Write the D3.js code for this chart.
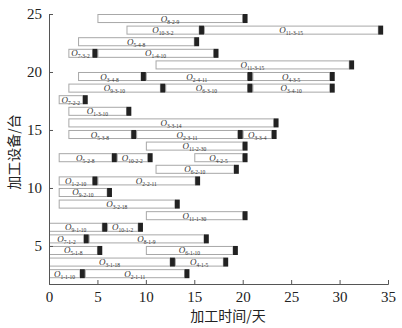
<!DOCTYPE html>
<html><head><meta charset="utf-8">
<script src="https://cdn.jsdelivr.net/npm/d3@7"></script>
<style>html,body{margin:0;padding:0;background:#fff;}svg{display:block;}</style>
</head><body>
<svg id="chart" width="402" height="328"></svg>
<script>
// ---- data ----
const opLabels   = ["8-2-9","10-3-2","11-3-15","5-4-8","7-3-2","1-4-10","11-3-15","3-4-8","2-4-11","4-3-5",
                    "9-3-10","6-3-10","3-4-10","7-2-2","1-3-10","3-3-14","5-3-8","2-3-11","3-3-4","11-2-30",
                    "5-2-8","10-2-2","4-2-5","6-2-10","1-2-10","2-2-11","9-2-10","3-2-18","11-1-30","9-1-10",
                    "10-1-2","7-1-2","8-1-9","5-1-8","6-1-10","3-1-18","4-1-5","1-1-10","2-1-11"];
const opMachine  = [25,24,24,23,22,22,21,20,20,20,
                    19,19,19,18,17,16,15,15,15,14,
                    13,13,13,12,11,11,10,9,8,7,
                    7,6,6,5,5,4,4,3,3];
const opStart    = [5,8,16,3,2,5,11,3,10,21,
                    2,12,21,1,2,2,2,9,20,10,
                    1,7,15,11,1,5,1,1,10,0,
                    6,0,4.1,0,10,0,13,0,3.7];
const opEnd      = [20,15.5,34,15,4.5,17,31,9.5,20.5,29,
                    11.5,20.5,29,3.5,8,23.2,8.5,19.5,23,20,
                    6.5,10.2,20,19.1,4.5,15.1,6,13,20,5.5,
                    9.2,3.6,16,5,19,12.5,18,3.2,14];
const opBlockEnd = [20.5,16,34.5,15.5,5,17.5,31.5,10,21,29.5,
                    12,21,29.5,4,8.5,23.7,9,20,23.5,20.5,
                    7,10.7,20.5,19.6,5,15.6,6.5,13.5,20.5,6,
                    9.7,4.1,16.5,5.5,19.5,13,18.5,3.7,14.5];
const xTicks = [0,5,10,15,20,25,30,35];
const yTicks = [5,10,15,20,25];
const xTitle = "加工时间/天";
const yTitle = "加工设备/台";

// ---- scales ----
const svg = d3.select("#chart");
const x = d3.scaleLinear().domain([0,35]).range([49,388]);
const y = d3.scaleLinear().domain([1.72,25]).range([284,14]);
const barH = 0.78; // in machine units

const rows = opLabels.map((l,i)=>({l, m:opMachine[i], s:opStart[i], e:opEnd[i], b:opBlockEnd[i]}));

const g = svg.append("g");
// white processing bars
g.selectAll("rect.op").data(rows).join("rect").attr("class","op")
  .attr("x", d=>x(d.s)+0.5).attr("y", d=>y(d.m)+0.5)
  .attr("width", d=>x(d.e)-x(d.s)-0.5).attr("height", d=>y(d.m-barH)-y(d.m)-1)
  .attr("fill","#fff").attr("stroke","#a8a8a8").attr("stroke-width",1);
// black blocks
g.selectAll("rect.blk").data(rows).join("rect").attr("class","blk")
  .attr("x", d=>x(d.e)).attr("y", d=>y(d.m))
  .attr("width", d=>x(d.b)-x(d.e)).attr("height", d=>y(d.m-barH)-y(d.m))
  .attr("fill","#222");
// labels
const lab = g.selectAll("text.lab").data(rows).join("text").attr("class","lab")
  .attr("x", d=>x((d.s+d.e)/2)).attr("y", d=>y(d.m-barH/2)+3)
  .attr("text-anchor","middle").attr("fill","#333")
  .style("font-family","'Liberation Serif', serif");
lab.append("tspan").text("O").style("font-style","italic").style("font-size","9px");
lab.append("tspan").text(d=>d.l).attr("dy",2).style("font-size","5.5px");

// axes
const xAxis = d3.axisBottom(x).tickValues(xTicks).tickSize(-4).tickPadding(7).tickFormat(d3.format("d"));
const gx = svg.append("g").attr("transform",`translate(0,${y(1.72)})`).call(xAxis);
const yAxis = d3.axisLeft(y).tickValues(yTicks).tickSize(-4).tickPadding(7).tickFormat(d3.format("d"));
const gy = svg.append("g").attr("transform",`translate(${x(0)},0)`).call(yAxis);
[gx,gy].forEach(a=>{
  a.select(".domain").attr("stroke","#555");
  a.selectAll(".tick line").attr("stroke","#555");
  a.selectAll(".tick text").attr("fill","#222").style("font-family","'Liberation Serif', serif").style("font-size","15px");
});

svg.append("text").attr("x", 228).attr("y", 321).attr("text-anchor","middle")
  .style("font-family","'Noto Sans CJK SC', sans-serif").style("font-size","14px").attr("fill","#222").text(xTitle);
svg.append("text").attr("transform","translate(19,152) rotate(-90)").attr("text-anchor","middle")
  .style("font-family","'Noto Sans CJK SC', sans-serif").style("font-size","14px").attr("fill","#222").text(yTitle);
</script>
</body></html>
